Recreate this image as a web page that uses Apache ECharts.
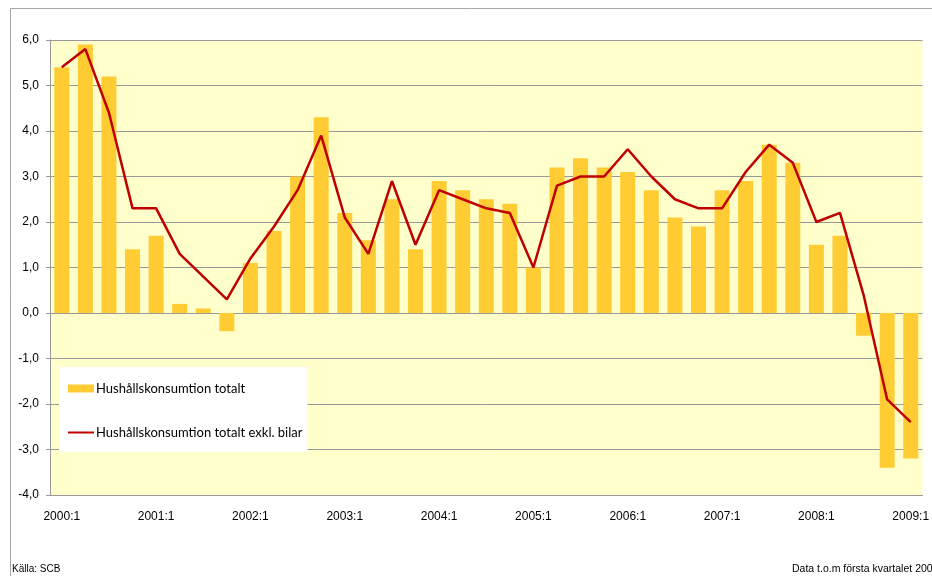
<!DOCTYPE html>
<html>
<head>
<meta charset="utf-8">
<script src="https://cdn.jsdelivr.net/npm/echarts@6/dist/echarts.min.js"></script>
<style>
  html, body { margin: 0; padding: 0; background: #fff; }
  #chart { width: 932px; height: 576px; }
</style>
</head>
<body>
<div id="chart"></div>
<script>
// kvartal 2000:1 - 2009:1
var quarters = [];
for (var y = 2000; y <= 2009; y++) {
  for (var q = 1; q <= 4; q++) {
    if (y === 2009 && q > 1) break;
    quarters.push(y + ':' + q);
  }
}
var totalt = [5.4, 5.9, 5.2, 1.4, 1.7, 0.2, 0.1, -0.4,
  1.1, 1.8, 3.0, 4.3, 2.2, 1.6, 2.5, 1.4,
  2.9, 2.7, 2.5, 2.4, 1.0, 3.2, 3.4, 3.2,
  3.1, 2.7, 2.1, 1.9, 2.7, 2.9, 3.7, 3.3,
  1.5, 1.7, -0.5, -3.4, -3.2];
var exklBilar = [5.4, 5.8, 4.4, 2.3, 2.3, 1.3, 0.8, 0.3,
  1.2, 1.9, 2.7, 3.9, 2.1, 1.3, 2.9, 1.5,
  2.7, 2.5, 2.3, 2.2, 1.0, 2.8, 3.0, 3.0,
  3.6, 3.0, 2.5, 2.3, 2.3, 3.1, 3.7, 3.3,
  2.0, 2.2, 0.4, -1.9, -2.4];
var seriesNames = ['Hushållskonsumtion totalt', 'Hushållskonsumtion totalt exkl. bilar'];

var myChart = echarts.init(document.getElementById('chart'));
var option = {
  animation: false,
  textStyle: { fontFamily: 'Liberation Sans' },
  grid: {
    left: 50,
    right: 4,
    top: 40,
    bottom: 81,
    show: true,
    backgroundColor: '#FFFFCC',
    borderWidth: 0
  },
  legend: {
    orient: 'vertical',
    left: 59,
    top: 367,
    backgroundColor: '#fff',
    padding: [15, 5, 13, 8],
    itemGap: 31,
    itemWidth: 26,
    itemHeight: 8,
    textStyle: { fontFamily: 'Lato', fontSize: 13, color: '#000', padding: [0, 0, 0, -3] },
    data: [
      { name: seriesNames[0], icon: 'rect' },
      { name: seriesNames[1], itemStyle: { opacity: 0 } }
    ]
  },
  xAxis: {
    type: 'category',
    data: quarters,
    axisLine: { onZero: false, lineStyle: { color: '#999' } },
    axisTick: { show: false },
    axisLabel: {
      interval: 3,
      color: '#000',
      fontSize: 12,
      margin: 16
    },
    splitLine: { show: false }
  },
  yAxis: {
    type: 'value',
    min: -4,
    max: 6,
    interval: 1,
    axisLine: { show: true, lineStyle: { color: '#999' } },
    axisTick: { show: true, length: 4, lineStyle: { color: '#999' } },
    axisLabel: {
      color: '#000',
      fontSize: 12,
      margin: 11,
      formatter: function (v) { return v.toFixed(1).replace('.', ','); }
    },
    splitLine: { show: true, lineStyle: { color: '#999', width: 1 } }
  },
  series: [
    {
      name: seriesNames[0],
      type: 'bar',
      data: totalt,
      barWidth: 15,
      itemStyle: { color: '#FFCC33' }
    },
    {
      name: seriesNames[1],
      type: 'line',
      data: exklBilar,
      symbol: 'none',
      itemStyle: { color: '#C00000' },
      lineStyle: { color: '#C00000', width: 2.5 },
      z: 5
    }
  ],
  graphic: [
    {
      type: 'rect',
      shape: { x: 10.5, y: 8.5, width: 1000, height: 700 },
      style: { fill: 'none', stroke: '#a6a6a6', lineWidth: 1 },
      silent: true,
      z: -1
    },
    {
      type: 'text',
      left: 12,
      top: 564,
      style: { text: 'Källa: SCB', font: '10px "Liberation Sans"', fill: '#000' }
    },
    {
      type: 'text',
      left: 792,
      top: 564,
      style: { text: 'Data t.o.m första kvartalet 2009', font: '10.5px "Liberation Sans"', fill: '#000' }
    }
  ]
};
myChart.setOption(option);
</script>
</body>
</html>
